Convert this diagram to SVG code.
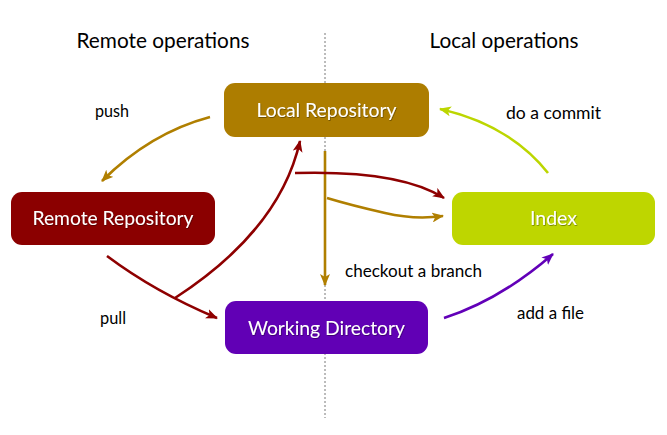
<svg xmlns="http://www.w3.org/2000/svg" width="667" height="435" viewBox="0 0 667 435">
<defs>
<style>
.title{font-family:Lato,"Open Sans",sans-serif;font-size:21px;fill:#000;text-anchor:middle}
.lbl{font-family:Lato,"Open Sans",sans-serif;font-size:17px;fill:#000}
.nt{font-family:Lato,"Open Sans",sans-serif;font-size:19.5px;fill:#fff;text-anchor:middle}
.c{fill:none;stroke-width:2.6}
</style>
<filter id="ts" x="-10%" y="-30%" width="120%" height="160%"><feDropShadow dx="0.6" dy="0.8" stdDeviation="0.6" flood-color="#000" flood-opacity="0.45"/></filter>
<marker id="aG" viewBox="0 0 12 10" refX="11" refY="5" markerWidth="12" markerHeight="10" markerUnits="userSpaceOnUse" orient="auto"><path d="M0,0 L12,5 L0,10 L3,5 Z" fill="#B07F00"/></marker>
<marker id="aR" viewBox="0 0 12 10" refX="11" refY="5" markerWidth="12" markerHeight="10" markerUnits="userSpaceOnUse" orient="auto"><path d="M0,0 L12,5 L0,10 L3,5 Z" fill="#8E0000"/></marker>
<marker id="aL" viewBox="0 0 12 10" refX="11" refY="5" markerWidth="12" markerHeight="10" markerUnits="userSpaceOnUse" orient="auto"><path d="M0,0 L12,5 L0,10 L3,5 Z" fill="#BCD600"/></marker>
<marker id="aP" viewBox="0 0 12 10" refX="11" refY="5" markerWidth="12" markerHeight="10" markerUnits="userSpaceOnUse" orient="auto"><path d="M0,0 L12,5 L0,10 L3,5 Z" fill="#6200B8"/></marker>
</defs>
<rect width="667" height="435" fill="#fff"/>
<line x1="325" y1="33" x2="325" y2="418" stroke="#555" stroke-width="0.8" stroke-dasharray="2,2"/>
<text class="title" x="163" y="48" textLength="173" lengthAdjust="spacingAndGlyphs">Remote operations</text>
<text class="title" x="504" y="48" textLength="149" lengthAdjust="spacingAndGlyphs">Local operations</text>
<g id="connectors">
<path class="c" stroke="#B07F00" d="M210,117 Q150,133 102,181" marker-end="url(#aG)"/>
<path class="c" stroke="#B07F00" d="M325,151 L325,285" marker-end="url(#aG)"/>
<path class="c" stroke="#B07F00" d="M327,198 Q350,205 385,213 Q415,220 443,216" marker-end="url(#aG)"/>
<path class="c" stroke="#8E0000" d="M107,256 Q155,292 217,318" marker-end="url(#aR)"/>
<path class="c" stroke="#8E0000" d="M175,298 Q280,230 300,141" marker-end="url(#aR)"/>
<path class="c" stroke="#8E0000" d="M295,173 Q400,170 444,198" marker-end="url(#aR)"/>
<path class="c" stroke="#BCD600" d="M548,173 Q510,125 440,109" marker-end="url(#aL)"/>
<path class="c" stroke="#6200B8" d="M444,318 Q500,300 553,254" marker-end="url(#aP)"/>
</g>
<g id="local-repo">
<rect x="224" y="83" width="205" height="54" rx="11" fill="#AD7D00"/>
<text class="nt" x="326.5" y="117" textLength="140" lengthAdjust="spacingAndGlyphs" filter="url(#ts)">Local Repository</text>
</g>
<g id="remote-repo">
<rect x="11" y="192" width="204" height="53" rx="11" fill="#8B0000"/>
<text class="nt" x="113" y="225" textLength="161" lengthAdjust="spacingAndGlyphs" filter="url(#ts)">Remote Repository</text>
</g>
<g id="index">
<rect x="452" y="192" width="203" height="53" rx="11" fill="#BED600"/>
<text class="nt" x="553.5" y="225" filter="url(#ts)">Index</text>
</g>
<g id="working-dir">
<rect x="225" y="301" width="203" height="53" rx="11" fill="#6100B5"/>
<text class="nt" x="326.5" y="335" textLength="157" lengthAdjust="spacingAndGlyphs" filter="url(#ts)">Working Directory</text>
</g>
<g id="labels">
<text class="lbl" x="95" y="117" textLength="34" lengthAdjust="spacingAndGlyphs">push</text>
<text class="lbl" x="100" y="324" textLength="26" lengthAdjust="spacingAndGlyphs">pull</text>
<text class="lbl" x="506" y="119" textLength="95" lengthAdjust="spacingAndGlyphs">do a commit</text>
<text class="lbl" x="345" y="277" textLength="137" lengthAdjust="spacingAndGlyphs">checkout a branch</text>
<text class="lbl" x="517" y="319" textLength="67" lengthAdjust="spacingAndGlyphs">add a file</text>
</g>
</svg>
